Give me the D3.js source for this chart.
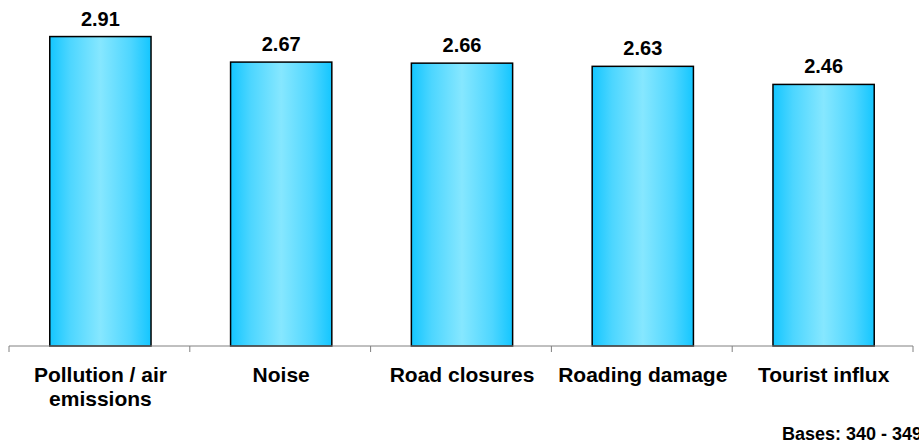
<html>
<head>
<script src="https://cdn.jsdelivr.net/npm/d3@7"></script>
<style>
  body { margin: 0; background: #fff; }
  text { font-family: Arial, "Liberation Sans", sans-serif; font-weight: bold; fill: #000; }
</style>
</head>
<body>
<svg id="chart" width="919" height="446"></svg>
<script>
  // data
  const categories = [["Pollution / air", "emissions"], ["Noise"], ["Road closures"], ["Roading damage"], ["Tourist influx"]]
  const values = [2.91, 2.67, 2.66, 2.63, 2.46]
  const baseNote = "Bases: 340 - 349"

  let svg = d3.select("#chart")

  let x = d3.scaleBand()
    .domain(d3.range(values.length))
    .range([9, 913])
    .padding(0)

  let y = d3.scaleLinear()
    .domain([0, 3])
    .range([346, 27])

  // horizontal cylinder-like gradient
  let grad = svg.append("defs").append("linearGradient")
    .attr("id", "barGrad")
    .attr("x1", "0%").attr("x2", "100%")
    .attr("y1", "0%").attr("y2", "0%")
  grad.append("stop").attr("offset", "0%").attr("stop-color", "#14c6ff")
  grad.append("stop").attr("offset", "20%").attr("stop-color", "#4dd6ff")
  grad.append("stop").attr("offset", "50%").attr("stop-color", "#86e7ff")
  grad.append("stop").attr("offset", "80%").attr("stop-color", "#4ed6ff")
  grad.append("stop").attr("offset", "100%").attr("stop-color", "#14c6ff")

  let barW = x.bandwidth() * 0.56

  svg.selectAll("rect.bar")
    .data(values)
    .enter().append("rect")
    .attr("class", "bar")
    .attr("x", (d, i) => x(i) + x.bandwidth() / 2 - barW / 2 + 1)
    .attr("y", d => y(d))
    .attr("width", barW)
    .attr("height", d => y(0) - y(d))
    .attr("fill", "url(#barGrad)")
    .attr("stroke", "#000")
    .attr("stroke-width", 1.5)

  // value labels above bars
  svg.selectAll("text.val")
    .data(values)
    .enter().append("text")
    .attr("class", "val")
    .attr("x", (d, i) => x(i) + x.bandwidth() / 2 + 1)
    .attr("y", d => y(d) - 11)
    .attr("text-anchor", "middle")
    .attr("font-size", 20)
    .text(d => d.toFixed(2))

  // category axis: line plus ticks at the category boundaries
  let axis = svg.append("g")
  axis.append("line")
    .attr("x1", x.range()[0]).attr("x2", x.range()[1])
    .attr("y1", y(0)).attr("y2", y(0))
    .attr("stroke", "#808080").attr("stroke-width", 1)
  let bounds = d3.range(values.length + 1).map(i => x.range()[0] + i * x.step())
  axis.selectAll("line.tick")
    .data(bounds)
    .enter().append("line")
    .attr("class", "tick")
    .attr("x1", d => d).attr("x2", d => d)
    .attr("y1", y(0)).attr("y2", y(0) + 6)
    .attr("stroke", "#808080").attr("stroke-width", 1)

  // category labels, may wrap to two lines
  let labels = svg.selectAll("text.cat")
    .data(categories)
    .enter().append("text")
    .attr("class", "cat")
    .attr("text-anchor", "middle")
    .attr("font-size", 21)
  labels.selectAll("tspan")
    .data((d, i) => d.map(line => ({ line, i })))
    .enter().append("tspan")
    .attr("x", d => x(d.i) + x.bandwidth() / 2 + 1)
    .attr("y", (d, j) => 382 + j * 23.5)
    .text(d => d.line)

  svg.append("text")
    .attr("x", 782)
    .attr("y", 440)
    .attr("font-size", 18)
    .text(baseNote)
</script>
</body>
</html>
